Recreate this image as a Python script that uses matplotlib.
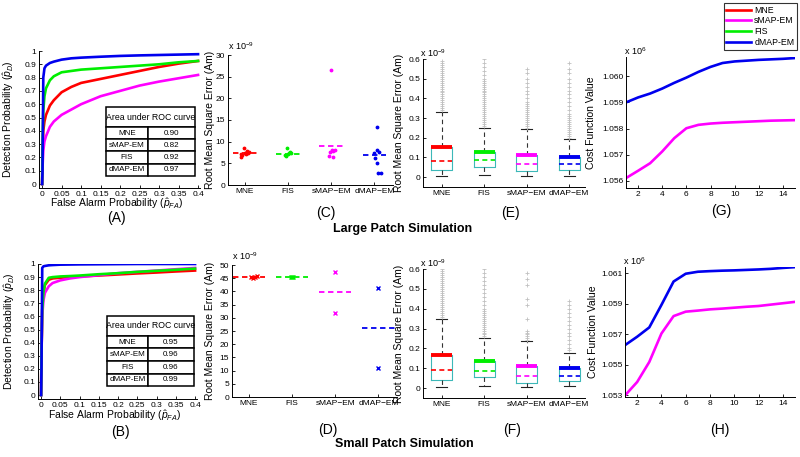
import matplotlib as mpl
mpl.use('Agg')
import matplotlib.pyplot as plt
from matplotlib.lines import Line2D
from matplotlib.ticker import FuncFormatter

plt.rcParams['font.family'] = ['Liberation Sans', 'DejaVu Sans']
plt.rcParams['mathtext.fontset'] = 'custom'
plt.rcParams['mathtext.rm'] = 'Liberation Sans'
plt.rcParams['mathtext.it'] = 'Liberation Sans:italic'

# ---------------- data ----------------
methods = ['MNE', 'sMAP-EM', 'FIS', 'dMAP-EM']
colors = ['#ff0000', '#ff00ff', '#00ee00', '#0000ee']

# ROC curves (false alarm grid, detection prob per method)
fa = [0, 0.001, 0.003, 0.006, 0.01, 0.02, 0.03, 0.05, 0.075, 0.1, 0.15, 0.2, 0.25, 0.3, 0.35, 0.4]
roc_large = [
    [0, 0.2, 0.4, 0.47, 0.52, 0.59, 0.63, 0.69, 0.73, 0.76, 0.79, 0.82, 0.85, 0.88, 0.905, 0.925],
    [0, 0.12, 0.25, 0.32, 0.36, 0.43, 0.47, 0.52, 0.56, 0.60, 0.66, 0.70, 0.74, 0.77, 0.795, 0.82],
    [0, 0.3, 0.55, 0.66, 0.72, 0.78, 0.81, 0.84, 0.85, 0.86, 0.87, 0.88, 0.89, 0.90, 0.915, 0.925],
    [0, 0.1, 0.8, 0.87, 0.89, 0.91, 0.92, 0.935, 0.945, 0.95, 0.957, 0.963, 0.967, 0.97, 0.973, 0.976],
]
roc_small = [
    [0, 0.3, 0.65, 0.78, 0.84, 0.88, 0.89, 0.895, 0.9, 0.905, 0.912, 0.92, 0.928, 0.935, 0.943, 0.95],
    [0, 0.3, 0.6, 0.72, 0.78, 0.83, 0.855, 0.875, 0.89, 0.9, 0.915, 0.93, 0.94, 0.95, 0.96, 0.97],
    [0, 0.3, 0.65, 0.78, 0.85, 0.895, 0.9, 0.905, 0.908, 0.912, 0.922, 0.93, 0.94, 0.948, 0.956, 0.965],
    [0, 0.2, 0.97, 0.982, 0.985, 0.99, 0.992, 0.995, 0.996, 0.997, 0.998, 0.999, 1.0, 1.0, 1.0, 1.0],
]
auc_large = ['0.90', '0.82', '0.92', '0.97']
auc_small = ['0.95', '0.96', '0.96', '0.99']

# RMSE per patch (x 1e-9), order on axis: MNE, FIS, sMAP-EM, dMAP-EM
cat_order = ['MNE', 'FIS', 'sMAP\u2212EM', 'dMAP\u2212EM']
cat_colors = ['#ff0000', '#00ee00', '#ff00ff', '#0000ee']
rmse_large = [
    [8.5, 7.7, 7.3, 6.9, 6.4, 7.5, 7.2, 7.6, 7.9, 7.1],
    [8.5, 7.7, 7.2, 6.7, 7.3, 7.0, 7.5],
    [26.5, 8.1, 7.9, 7.7, 6.7, 6.5, 8.0],
    [13.5, 8.1, 7.7, 6.2, 5.0, 2.7, 2.7, 7.4],
]
spread_large = [
    [-0.02, 0.05, 0.0, -0.06, -0.08, 0.08, -0.1, 0.1, 0.06, 0.03],
    [-0.03, 0.05, 0.0, -0.05, 0.08, -0.08, 0.03],
    [0.0, 0.02, 0.05, -0.03, -0.05, 0.03, 0.08],
    [0.06, 0.05, 0.1, 0.02, 0.06, 0.08, 0.16, 0.0],
]
med_large = [7.3, 7.15, 9.0, 6.9]
rmse_small = [[45.3, 46.0, 45.0, 45.6], [45.5, 45.6, 45.4], [47.2, 32.0], [41.4, 11.1]]
spread_small = [[0.05, 0.2, 0.1, 0.15], [0.0, 0.02, -0.02], [0.0, 0.0], [0.0, 0.0]]
med_small = [45.5, 45.5, 39.7, 26.2]

# source amplitude error box statistics (x 1e-9)
E_q1 = [0.035, 0.05, 0.03, 0.038]
E_med = [0.08, 0.085, 0.065, 0.068]
E_q3 = [0.155, 0.13, 0.115, 0.10]
E_lo = [0.005, 0.01, 0.005, 0.004]
E_hi = [0.33, 0.25, 0.245, 0.196]
E_out = [
    [0.34, 0.35, 0.36, 0.37, 0.38, 0.39, 0.40, 0.41, 0.42, 0.43, 0.44, 0.45, 0.46, 0.47,
     0.48, 0.49, 0.50, 0.51, 0.52, 0.53, 0.54, 0.55, 0.56, 0.57, 0.58, 0.59],
    [0.26, 0.27, 0.28, 0.29, 0.30, 0.31, 0.32, 0.33, 0.34, 0.35, 0.36, 0.37, 0.38, 0.39, 0.40,
     0.41, 0.42, 0.43, 0.44, 0.45, 0.46, 0.47, 0.48, 0.49, 0.50, 0.52, 0.54, 0.56, 0.58, 0.60],
    [0.25, 0.26, 0.27, 0.28, 0.29, 0.30, 0.31, 0.32, 0.33, 0.34, 0.35, 0.36, 0.37, 0.38,
     0.40, 0.42, 0.44, 0.46, 0.48, 0.50, 0.53, 0.55],
    [0.20, 0.21, 0.22, 0.23, 0.24, 0.25, 0.26, 0.27, 0.28, 0.29, 0.30, 0.31, 0.32, 0.34,
     0.36, 0.38, 0.40, 0.42, 0.44, 0.46, 0.48, 0.50, 0.53, 0.55, 0.58],
]
F_q1 = [0.04, 0.055, 0.025, 0.038]
F_med = [0.09, 0.085, 0.06, 0.063]
F_q3 = [0.165, 0.135, 0.11, 0.10]
F_lo = [0.005, 0.008, 0.005, 0.008]
F_hi = [0.35, 0.25, 0.235, 0.176]
F_out = [
    [0.36, 0.37, 0.38, 0.39, 0.40, 0.41, 0.42, 0.43, 0.44, 0.45, 0.46, 0.47, 0.48, 0.49,
     0.50, 0.51, 0.52, 0.53, 0.54, 0.55, 0.56, 0.57, 0.58, 0.59, 0.60],
    [0.26, 0.27, 0.28, 0.29, 0.30, 0.31, 0.32, 0.33, 0.34, 0.35, 0.36, 0.37, 0.38, 0.39, 0.40,
     0.42, 0.44, 0.46, 0.48, 0.50, 0.52, 0.54, 0.56, 0.58, 0.60],
    [0.24, 0.25, 0.26, 0.27, 0.28, 0.29, 0.35, 0.42, 0.45, 0.52, 0.55, 0.58],
    [0.19, 0.20, 0.22, 0.24, 0.26, 0.28, 0.30, 0.32, 0.34, 0.36, 0.38, 0.40, 0.42, 0.44],
]

# cost function vs iteration (x 1e6)
iters = list(range(1, 16))
G_smap = [1.0561, 1.05638, 1.05667, 1.05712, 1.05763, 1.05801, 1.05814, 1.05819, 1.05822,
          1.05824, 1.05826, 1.05828, 1.0583, 1.05831, 1.05832]
G_dmap = [1.0590, 1.05919, 1.05934, 1.05953, 1.05975, 1.05995, 1.06017, 1.06036, 1.06051,
          1.06057, 1.0606, 1.06063, 1.06065, 1.06067, 1.0607]
H_smap = [1.0530, 1.05388, 1.05519, 1.05705, 1.05819, 1.05848, 1.05855, 1.05863, 1.05868,
          1.05874, 1.0588, 1.05885, 1.05894, 1.05903, 1.05912]
H_dmap = [1.05629, 1.05684, 1.05745, 1.05892, 1.06045, 1.06096, 1.06109, 1.06113, 1.06116,
          1.06118, 1.06121, 1.06124, 1.06128, 1.06134, 1.06139]

# ---------------- layout helpers ----------------
W, H = 800, 457
fig = plt.figure(figsize=(W / 100, H / 100), dpi=100)


def px_axes(l, t, r, b):
    ax = fig.add_axes([l / W, 1 - b / H, (r - l) / W, (b - t) / H])
    ax.spines['top'].set_visible(False)
    ax.spines['right'].set_visible(False)
    ax.tick_params(direction='in', length=2.5, labelsize=6, width=0.6, pad=2)
    for s in ('left', 'bottom'):
        ax.spines[s].set_linewidth(0.7)
    ax.set_facecolor('none')
    return ax


gfmt = FuncFormatter(lambda v, p: '%g' % round(v, 4))


def roc_panel(ax, curves, auc, tbl_box, ylab_x, xlab_y):
    for y, c in zip(curves, colors):
        ax.plot(fa, y, color=c, lw=1.9, solid_joinstyle='round')
    ax.set_xlim(-0.008, 0.405)
    ax.set_ylim(-0.03, 1.0)
    ax.set_xticks([0, 0.05, 0.1, 0.15, 0.2, 0.25, 0.3, 0.35, 0.4])
    ax.set_yticks([i / 10 for i in range(11)])
    ax.xaxis.set_major_formatter(gfmt)
    ax.yaxis.set_major_formatter(gfmt)
    ax.set_ylabel(r'Detection Probability ($\hat{p}_D$)', fontsize=7.5)
    ax.set_xlabel(r'False Alarm Probability ($\hat{p}_{FA}$)', fontsize=7.5)
    ax.yaxis.set_label_coords(ylab_x, 0.5)
    ax.xaxis.set_label_coords(0.48, xlab_y)
    x0, yh, w, hh, yb, hb = tbl_box
    head = ax.table(cellText=[['Area under ROC curve']], bbox=[x0, yh, w, hh], cellLoc='center')
    body = ax.table(cellText=[[m, a] for m, a in zip(methods, auc)],
                    bbox=[x0, yb, w, hb], colWidths=[0.47, 0.53], cellLoc='center')
    for t in (head, body):
        t.auto_set_font_size(False)
        for (r, c), cell in t.get_celld().items():
            cell.set_linewidth(1.1)
            cell.set_facecolor('white')
            cell.get_text().set_fontsize(6.3 if t is head else 5.8)
            if t is body and c == 0:
                cell._loc = 'left'
                cell.PAD = 0.04
    head[(0, 0)].PAD = 0.02


def scatter_panel(ax, vals, spread, meds, width, ylim, step, marker, ms, ylab_x):
    for i, (v, s, m, c) in enumerate(zip(vals, spread, meds, cat_colors)):
        pos = i + 1
        ax.plot([pos + d for d in s], v, ls='none', marker=marker, color=c, ms=ms, mew=1.0)
        ax.plot([pos - width / 2, pos + width / 2], [m, m], color=c, ls=(0, (3, 2)), lw=1.3)
    ax.set_xlim(0.61, 4.43)
    ax.set_ylim(*ylim)
    ax.set_yticks(list(range(0, int(ylim[1]) + 1, step)))
    ax.set_xticks([1, 2, 3, 4])
    ax.set_xticklabels(cat_order)
    ax.set_ylabel('Root Mean Square Error (Am)', fontsize=7.5)
    ax.yaxis.set_label_coords(ylab_x, 0.5)
    ax.text(0, 1.02, r'x 10$^{-9}$', transform=ax.transAxes, fontsize=6.5, va='bottom')


def box_panel(ax, q1, med, q3, lo, hi, out, ylab_x):
    stats = [dict(med=m, q1=a, q3=b, whislo=l, whishi=h, fliers=f)
             for a, m, b, l, h, f in zip(q1, med, q3, lo, hi, out)]
    parts = ax.bxp(stats, positions=[1, 2, 3, 4], widths=0.5, showfliers=True,
                   boxprops=dict(color='#3cb8b8', lw=0.8),
                   whiskerprops=dict(color='#333333', ls=(0, (4, 3)), lw=0.8),
                   capprops=dict(color='#222222', lw=0.8),
                   medianprops=dict(ls=(0, (3, 2)), lw=1.2),
                   flierprops=dict(marker='+', markeredgecolor='#c0c0c0', ms=3, mew=0.6, ls='none'))
    for i, c in enumerate(cat_colors):
        parts['medians'][i].set_color(c)
        ax.plot([i + 0.75, i + 1.25], [q3[i], q3[i]], color=c, lw=2.8, solid_capstyle='butt')
    ax.set_xlim(0.56, 4.37)
    ax.set_ylim(-0.05, 0.6)
    ax.set_yticks([0, 0.1, 0.2, 0.3, 0.4, 0.5, 0.6])
    ax.yaxis.set_major_formatter(gfmt)
    ax.set_xticks([1, 2, 3, 4])
    ax.set_xticklabels(cat_order)
    ax.set_ylabel('Root Mean Square Error (Am)', fontsize=7.5)
    ax.yaxis.set_label_coords(ylab_x, 0.5)
    ax.text(-0.02, 1.0, r'x 10$^{-9}$', transform=ax.transAxes, fontsize=6.5, va='bottom')


def cost_panel(ax, smap, dmap, ylim, yticks, ylab_x):
    ax.plot(iters, smap, color='#ff00ff', lw=1.9)
    ax.plot(iters, dmap, color='#0000ee', lw=1.9)
    ax.set_xlim(1, 15)
    ax.set_ylim(*ylim)
    ax.set_xticks([2, 4, 6, 8, 10, 12, 14])
    ax.set_yticks(yticks)
    ax.yaxis.set_major_formatter(FuncFormatter(lambda v, p: '%.3f' % v))
    ax.set_ylabel('Cost Function Value', fontsize=7.5)
    ax.yaxis.set_label_coords(ylab_x, 0.5)
    ax.text(-0.01, 1.0, r'x 10$^{6}$', transform=ax.transAxes, fontsize=6.5, va='bottom')


# ---------------- panels ----------------
axA = px_axes(39, 51, 200, 188)
roc_panel(axA, roc_large, auc_large, (0.416, 0.445, 0.553, 0.146, 0.088, 0.357), -0.143, -0.062)
axB = px_axes(38, 264, 197, 399)
roc_panel(axB, roc_small, auc_small, (0.434, 0.467, 0.547, 0.148, 0.096, 0.371), -0.135, -0.07)

axC = px_axes(228, 55, 393, 185)
scatter_panel(axC, rmse_large, spread_large, med_large, 0.55, (0, 30), 5, '.', 3.5, -0.079)
axD = px_axes(232, 265, 397, 397)
scatter_panel(axD, rmse_small, spread_small, med_small, 0.75, (0, 50), 5, 'x', 2.5, -0.103)

axE = px_axes(423, 59, 585, 187)
box_panel(axE, E_q1, E_med, E_q3, E_lo, E_hi, E_out, -0.117)
axF = px_axes(423, 269, 585, 398)
box_panel(axF, F_q1, F_med, F_q3, F_lo, F_hi, F_out, -0.117)

axG = px_axes(626, 57, 795, 188)
cost_panel(axG, G_smap, G_dmap, (1.05572, 1.06074), [1.056, 1.057, 1.058, 1.059, 1.060], -0.178)
axH = px_axes(625, 267, 795, 397)
cost_panel(axH, H_smap, H_dmap, (1.0529, 1.0614), [1.053, 1.055, 1.057, 1.059, 1.061], -0.159)

# panel letters and row titles
for lab, x, y in [('(A)', 116, 218), ('(B)', 120, 432), ('(C)', 326, 213), ('(D)', 328, 430),
                  ('(E)', 510, 213), ('(F)', 512, 430), ('(G)', 721, 211), ('(H)', 720, 430)]:
    fig.text(x / W, 1 - y / H, lab, fontsize=10, ha='center', va='center')
fig.text(403 / W, 1 - 229 / H, 'Large Patch Simulation', fontsize=9, fontweight='bold',
         ha='center', va='center')
fig.text(404 / W, 1 - 444 / H, 'Small Patch Simulation', fontsize=9, fontweight='bold',
         ha='center', va='center')

handles = [Line2D([], [], color=c, lw=1.9) for c in colors]
leg = fig.legend(handles, methods, loc='upper right', bbox_to_anchor=(797 / W, 1 - 3 / H),
                 fontsize=6.3, frameon=True, fancybox=False, edgecolor='black',
                 handlelength=2.8, labelspacing=0.2, borderpad=0.3, handletextpad=0.4,
                 borderaxespad=0)
leg.get_frame().set_linewidth(0.8)

fig.savefig('out.png', dpi=100)
